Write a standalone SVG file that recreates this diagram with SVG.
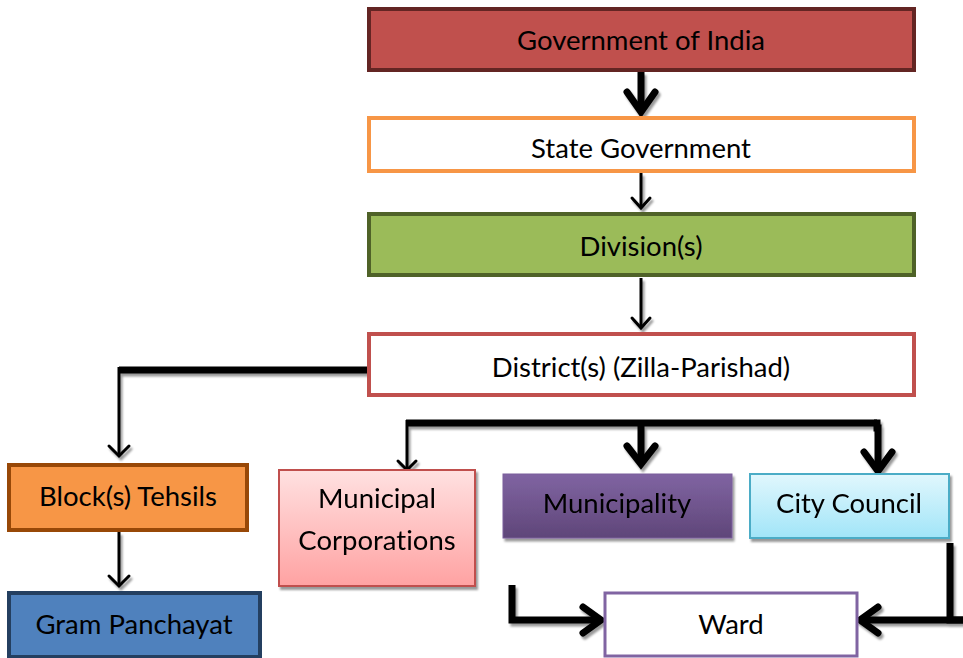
<svg xmlns="http://www.w3.org/2000/svg" width="963" height="658" viewBox="0 0 963 658">
<defs>
<style>
text{font-family:Lato,"Open Sans","Liberation Sans",sans-serif;font-size:27.5px;fill:#000;text-anchor:middle;font-variant-ligatures:none}
.thick{fill:none;stroke:#000;stroke-width:7;stroke-linecap:butt;stroke-linejoin:miter}
.thin{fill:none;stroke:#000;stroke-width:3;stroke-linecap:butt}
.headB{fill:none;stroke:#000;stroke-width:7;stroke-linecap:round;stroke-linejoin:miter}
.headT{fill:none;stroke:#000;stroke-width:3;stroke-linecap:round;stroke-linejoin:miter}
</style>
<filter id="sh" x="-20%" y="-20%" width="140%" height="140%">
<feDropShadow dx="2" dy="3" stdDeviation="0.8" flood-color="#000" flood-opacity="0.4"/>
</filter>
<linearGradient id="gPink" x1="0" y1="0" x2="0" y2="1"><stop offset="0" stop-color="#FFE1E1"/><stop offset="1" stop-color="#FFA2A2"/></linearGradient>
<linearGradient id="gPurple" x1="0" y1="0" x2="0" y2="1"><stop offset="0" stop-color="#8064A2"/><stop offset="1" stop-color="#5F4679"/></linearGradient>
<linearGradient id="gCyan" x1="0" y1="0" x2="0" y2="1"><stop offset="0" stop-color="#E1F7FD"/><stop offset="1" stop-color="#A1E5F8"/></linearGradient>
</defs>
<rect width="963" height="658" fill="#fff"/>

<g id="connectors" filter="url(#sh)">
<line class="thick" x1="641" y1="72" x2="641" y2="112"/>
<polyline class="headB" points="627,92 641,112 655,92"/>
<line class="thin" x1="641" y1="173" x2="641" y2="208"/>
<polyline class="headT" points="632,198 641,208 650,198"/>
<line class="thin" x1="641" y1="278" x2="641" y2="328"/>
<polyline class="headT" points="632,318 641,328 650,318"/>
<polyline class="thick" points="368,370 119,370"/>
<line class="thin" x1="119" y1="367" x2="119" y2="456"/>
<polyline class="headT" points="109,446 119,456 129,446"/>
<line class="thin" x1="119" y1="532" x2="119" y2="586"/>
<polyline class="headT" points="109,576 119,586 129,576"/>
<polyline class="thick" points="406,423 877,423"/>
<line class="thin" x1="407" y1="420" x2="407" y2="470"/>
<polyline class="headT" points="398,461 407,470 416,461"/>
<line class="thick" x1="641" y1="420" x2="641" y2="464"/>
<polyline class="headB" points="627,446 641,464 655,446"/>
<polyline class="thick" points="874,423 877,423 877,428 878,428 878,471"/>
<polyline class="headB" points="864,452 878,471 892,452"/>
<polyline class="thick" points="512,585 512,620 601,620"/>
<polyline class="headB" points="583,607 601,620 583,633"/>
<polyline class="thick" points="950,543 950,620 963,620"/>
<line class="thick" x1="963" y1="620" x2="860" y2="620"/>
<polyline class="headB" points="878,607 860,620 878,633"/>
</g>

<g id="gov">
<rect x="369" y="9" width="545" height="61" fill="#C0504D" stroke="#632523" stroke-width="4"/>
<text x="641" y="50">Government of India</text>
</g>
<g id="state">
<rect x="369" y="118" width="545" height="53" fill="#fff" stroke="#F79646" stroke-width="4"/>
<text x="641" y="158">State Government</text>
</g>
<g id="division">
<rect x="369" y="214" width="545" height="61" fill="#9BBB59" stroke="#4F6228" stroke-width="4"/>
<text x="641" y="256">Division(s)</text>
</g>
<g id="district">
<rect x="369" y="334" width="545" height="61" fill="#fff" stroke="#C0504D" stroke-width="4"/>
<text x="641" y="377">District(s) (Zilla-Parishad)</text>
</g>
<g id="block">
<rect x="9" y="465" width="238" height="65" fill="#F79646" stroke="#984807" stroke-width="4"/>
<text x="128" y="506">Block(s) Tehsils</text>
</g>
<g id="gram">
<rect x="9" y="593" width="251" height="64" fill="#4F81BD" stroke="#243F60" stroke-width="4"/>
<text x="134" y="634">Gram Panchayat</text>
</g>
<g id="municipal-corp" filter="url(#sh)">
<rect x="279" y="470" width="196" height="116" fill="url(#gPink)" stroke="#C0504D" stroke-width="2"/>
<text x="377" y="508">Municipal</text>
<text x="377" y="550">Corporations</text>
</g>
<g id="municipality" filter="url(#sh)">
<rect x="503" y="474" width="229" height="64" fill="url(#gPurple)" stroke="#7A5F9C" stroke-width="1"/>
<text x="617" y="513">Municipality</text>
</g>
<g id="city-council" filter="url(#sh)">
<rect x="750" y="474" width="199" height="64" fill="url(#gCyan)" stroke="#4BACC6" stroke-width="2"/>
<text x="849" y="513">City Council</text>
</g>
<g id="ward">
<rect x="605" y="593" width="252" height="63" fill="#fff" stroke="#8064A2" stroke-width="3"/>
<text x="731" y="634">Ward</text>
</g>
</svg>
